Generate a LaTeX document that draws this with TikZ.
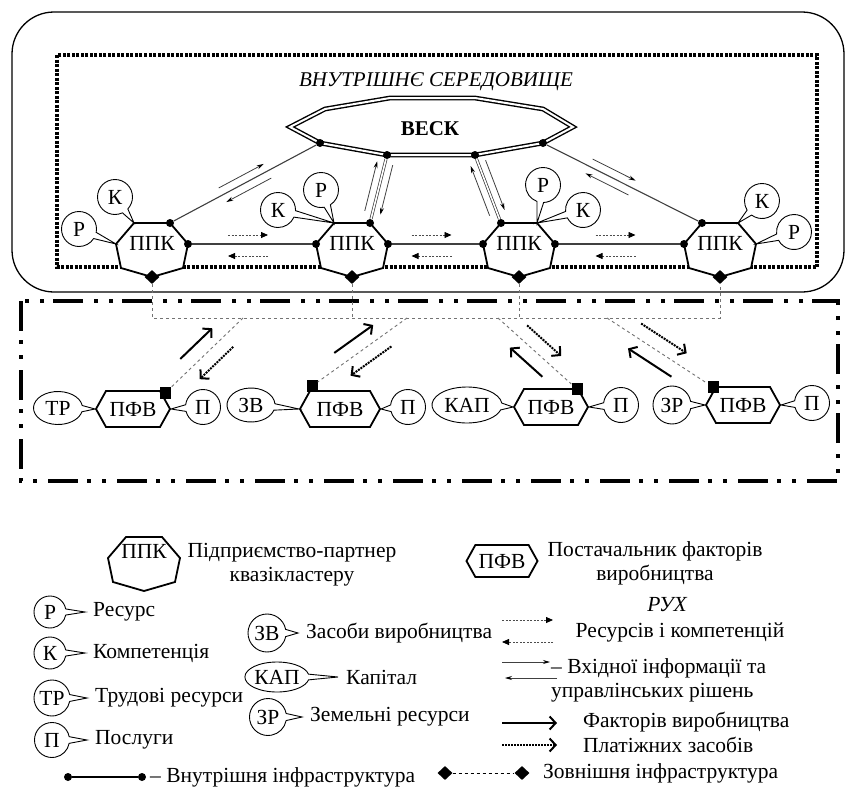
\documentclass[tikz,border=0pt]{standalone}
\usepackage{fontspec}
\setmainfont{Liberation Serif}
\usetikzlibrary{calc,arrows.meta,shapes.callouts,shapes.symbols,shapes.geometric}

\begin{document}
\begin{tikzpicture}[x=1pt, y=-1pt,
  every node/.style={font=\rmfamily\fontsize{21.5}{24}\selectfont},
  ppkline/.style={line width=1.8pt, fill=white},
  dot/.style={circle, fill, inner sep=0pt, minimum size=8pt},
  diam/.style={diamond, fill, inner sep=0pt, minimum width=15pt, minimum height=14pt},
  sq/.style={rectangle, fill, inner sep=0pt, minimum width=11pt, minimum height=12pt},
  bub/.style={ellipse callout, draw, fill=white, line width=0.9pt, inner sep=0pt, minimum size=35pt, callout pointer arc=22},
  ebub/.style={ellipse callout, draw, fill=white, line width=0.9pt, inner sep=0pt, callout pointer arc=22},
  pfv/.style={signal, signal to=east and west, signal pointer angle=122, draw, line width=1.8pt, fill=white, inner sep=0pt, minimum height=36pt, minimum width=74pt},
  intline/.style={line width=1.1pt, black!75},
  dbline/.style={double, line width=0.7pt, double distance=1.6pt, black!80},
  extline/.style={dashed, line width=0.9pt, black!55},
  resarr/.style={line width=0.8pt, dash pattern=on 2pt off 1.5pt, black!70, -{Triangle[length=7pt,width=6pt,black]}},
  infarr/.style={line width=0.8pt, black!75, -{Stealth[length=7pt,width=4pt,black]}},
  facarr/.style={line width=2pt, -{Straight Barb[length=6pt,width=13pt]}},
  payarr/.style={line width=2pt, densely dotted, -{Straight Barb[length=6pt,width=13pt]}},
  ltxt/.style={anchor=west, inner xsep=8pt, inner ysep=0pt}]
\useasboundingbox[fill=white] (0,0) rectangle (846,790);
\draw[line width=1.3pt, rounded corners=42pt] (12,12) rectangle (844,292);
\draw[line width=3.5pt, dash pattern=on 3pt off 1.5pt] (57,55) rectangle (817,267);
\node[font=\rmfamily\fontsize{21}{24}\selectfont\itshape] (vnutr) at (436,82) {ВНУТРІШНЄ СЕРЕДОВИЩЕ};
\draw[line width=4.5pt, dash pattern=on 30pt off 9pt on 4pt off 11pt on 4pt off 11pt] (21,301) rectangle (838,481);

\draw[double, line width=1.4pt, double distance=2pt, fill=white] (290,127) -- (325,109) -- (390,98) -- (475,98) -- (543,109) -- (573,127) -- (543,143) coordinate (w4) -- (475,155) coordinate (w3) -- (387,155) coordinate (w2) -- (320,143) coordinate (w1) -- cycle;
\node[font=\rmfamily\fontsize{21}{24}\selectfont\bfseries] (vesk) at (430,129) {ВЕСК};
\foreach \i in {1,...,4} \node[dot] (v\i) at (w\i) {};

\foreach \i/\x in {1/152,2/352,3/519,4/720}{
  \draw[ppkline] (\x-18,223) coordinate (p\i-tl) -- (\x+18,223) coordinate (p\i-tr) -- (\x+36,244) coordinate (p\i-r) -- (\x+31,268) -- (\x,277) coordinate (p\i-b) -- (\x-31,268) -- (\x-36,244) coordinate (p\i-l) -- cycle;
  \node (ppk\i) at (\x,243) {ППК};
  \node[diam] (dm\i) at (p\i-b) {};
}
\node[dot] (d1t) at (p1-tr) {};
\node[dot] (d1r) at (p1-r) {};
\node[dot] (d2l) at (p2-l) {};
\node[dot] (d2t) at (p2-tr) {};
\node[dot] (d2r) at (p2-r) {};
\node[dot] (d3l) at (p3-l) {};
\node[dot] (d3t) at (p3-tl) {};
\node[dot] (d3r) at (p3-r) {};
\node[dot] (d4l) at (p4-l) {};
\node[dot] (d4t) at (p4-tl) {};
\draw[intline] (d1r) -- (d2l);
\draw[intline] (d2r) -- (d3l);
\draw[intline] (d3r) -- (d4l);
\draw[intline] (d1t) -- (v1);
\draw[dbline] (d2t) -- (v2);
\draw[dbline] (d3t) -- (v3);
\draw[intline] (d4t) -- (v4);

\foreach \a/\b in {d1r/d2l,d2r/d3l,d3r/d4l}{
  \draw[resarr] ($(\a)!.5!(\b)+(-24,-9)$) -- ($(\a)!.5!(\b)+(16,-9)$);
  \draw[resarr] ($(\a)!.5!(\b)+(16,12)$) -- ($(\a)!.5!(\b)+(-24,12)$);
}
\foreach \a/\b/\s/\e in {d1t/v1/.35/.65,d2t/v2/.15/.88,d3t/v3/.15/.88,d4t/v4/.44/.71}{
  \draw[infarr] ($(\a)!\s!(\b)!8pt!90:(\b)$) -- ($(\a)!\e!(\b)!8pt!90:(\b)$);
  \draw[infarr] ($(\a)!\e!(\b)!8pt!-90:(\b)$) -- ($(\a)!\s!(\b)!8pt!-90:(\b)$);
}

\node[bub, callout absolute pointer={(p1-tl)}] (k1) at (115,197) {К};
\node[bub, callout absolute pointer={(p1-l)}] (r1) at (79,229) {Р};
\node[bub, callout absolute pointer={(p2-tl)}] (k2) at (278,210) {К};
\node[bub, callout absolute pointer={(p2-tl)}] (r2) at (321,190) {Р};
\node[bub, callout absolute pointer={(p3-tr)}] (r3) at (543,185) {Р};
\node[bub, callout absolute pointer={(p3-tr)}] (k3) at (583,210) {К};
\node[bub, callout absolute pointer={(p4-tr)}] (k4) at (762,201) {К};
\node[bub, callout absolute pointer={(p4-r)}] (r4) at (794,232) {Р};

\node[pfv] (f1) at (133,409) {ПФВ};
\node[pfv, minimum width=80pt] (f2) at (340,409) {ПФВ};
\node[pfv] (f3) at (551,407) {ПФВ};
\node[pfv] (f4) at (743,405) {ПФВ};
\node[ebub, minimum width=49pt, minimum height=33pt, callout absolute pointer={(f1.west)}] (tr) at (58,408) {ТР};
\node[bub, callout absolute pointer={(f1.east)}] (s1) at (203,407) {П};
\node[ebub, minimum width=48pt, minimum height=34pt, callout absolute pointer={(f2.west)}] (zv) at (251,405) {ЗВ};
\node[bub, callout absolute pointer={(f2.east)}] (s2) at (408,407) {П};
\node[ebub, minimum width=70pt, minimum height=36pt, callout absolute pointer={(f3.west)}] (kap) at (467,405) {КАП};
\node[bub, callout absolute pointer={(f3.east)}] (s3) at (621,405) {П};
\node[bub, minimum size=38pt, callout absolute pointer={(f4.west)}] (zr) at (672,405) {ЗР};
\node[bub, callout absolute pointer={(f4.east)}] (s4) at (812,403) {П};
\node[sq] (q1) at ([xshift=32pt,yshift=-3pt]f1.north) {};
\node[sq] (q2) at ([xshift=-28pt,yshift=4pt]f2.north) {};
\node[sq] (q3) at ([xshift=26pt,yshift=-1pt]f3.north) {};
\node[sq] (q4) at ([xshift=-30pt,yshift=-1pt]f4.north) {};

\coordinate (b1) at (243,318);
\coordinate (b2) at (407,318);
\coordinate (b3) at (498,318);
\coordinate (b4) at (607,318);
\draw[extline] (dm1) -- (dm1 |- b1) -- (dm4 |- b1) -- (dm4);
\draw[extline] (dm2) -- (dm2 |- b1);
\draw[extline] (dm3) -- (dm3 |- b1);
\foreach \i in {1,...,4} \draw[extline] (b\i) -- (q\i);
\foreach \q/\b in {q1/b1,q2/b2,q3/b3,q4/b4}{
  \draw[facarr] ($(\q)!.32!(\b)!14pt!90:(\b)$) -- ($(\q)!.73!(\b)!14pt!90:(\b)$);
  \draw[payarr] ($(\q)!.75!(\b)!14pt!-90:(\b)$) -- ($(\q)!.32!(\b)!14pt!-90:(\b)$);
}

\draw[ppkline] (126,537) -- (162,537) -- (180,558) -- (175,582) -- (144,591) -- (113,582) -- (108,558) -- cycle;
\node (lppk) at (144,551) {ППК};
\node[align=center] (lppkt) at (292,565) {Підприємство-партнер\\квазікластеру};
\node[pfv, minimum width=71pt, minimum height=32pt] (lpfv) at (502,561) {ПФВ};
\node[align=center] (lpfvt) at (655,563) {Постачальник факторів\\виробництва};

\node[ltxt] (lrt) at (85,612) {Ресурс};
\node[bub, minimum size=32pt, callout absolute pointer={(lrt.west)}] (lr) at (50,612) {Р};
\node[ltxt] (lkt) at (85,653) {Компетенція};
\node[bub, minimum size=32pt, callout absolute pointer={(lkt.west)}] (lk) at (50,653) {К};
\node[ltxt] (ltrt) at (87,698) {Трудові ресурси};
\node[bub, minimum size=36pt, callout absolute pointer={(ltrt.west)}] (ltr) at (52,698) {ТР};
\node[ltxt] (lst) at (87,740) {Послуги};
\node[bub, callout absolute pointer={(lst.west)}] (ls) at (52,740) {П};
\node[ltxt] (lzvt) at (298,633) {Засоби виробництва};
\node[bub, minimum size=38pt, callout absolute pointer={(lzvt.west)}] (lzv) at (267,633) {ЗВ};
\node[ltxt] (lkapt) at (338,677) {Капітал};
\node[ebub, minimum width=57pt, minimum height=30pt, callout absolute pointer={(lkapt.west)}] (lkap) at (277,677) {КАП};
\node[ltxt] (lzrt) at (302,717) {Земельні ресурси};
\node[bub, minimum size=37pt, callout absolute pointer={(lzrt.west)}] (lzr) at (268,717) {ЗР};
\node[dot] (ld1) at (68,777) {};
\node[dot] (ld2) at (142,777) {};
\draw[intline, black] (ld1) -- (ld2);
\node[ltxt, inner xsep=0pt] (lint) at (150,777) {– Внутрішня інфраструктура};

\node[font=\rmfamily\fontsize{21.5}{24}\selectfont\itshape] (rux) at (667,605) {РУХ};
\draw[resarr] (502,620) -- (553,620);
\draw[resarr] (553,642) -- (502,642);
\node (lres) at (680,632) {Ресурсів і компетенцій};
\draw[infarr] (502,662) -- (550,662);
\draw[infarr] (557,678) -- (505,678);
\node[align=left, anchor=west, inner sep=0pt] (linf) at (551,680) {– Вхідної інформації та\\управлінських рішень};
\draw[facarr] (502,723) -- (557,723);
\node[ltxt, inner xsep=0pt] (lfac) at (583,722) {Факторів виробництва};
\draw[payarr] (502,745) -- (557,745);
\node[ltxt, inner xsep=0pt] (lpay) at (583,745) {Платіжних засобів};
\node[diam] (ldm1) at (445,773) {};
\node[diam] (ldm2) at (522,773) {};
\draw[extline, black] (ldm1) -- (ldm2);
\node[ltxt, inner xsep=0pt] (lext) at (543,773) {Зовнішня інфраструктура};
\end{tikzpicture}
\end{document}
